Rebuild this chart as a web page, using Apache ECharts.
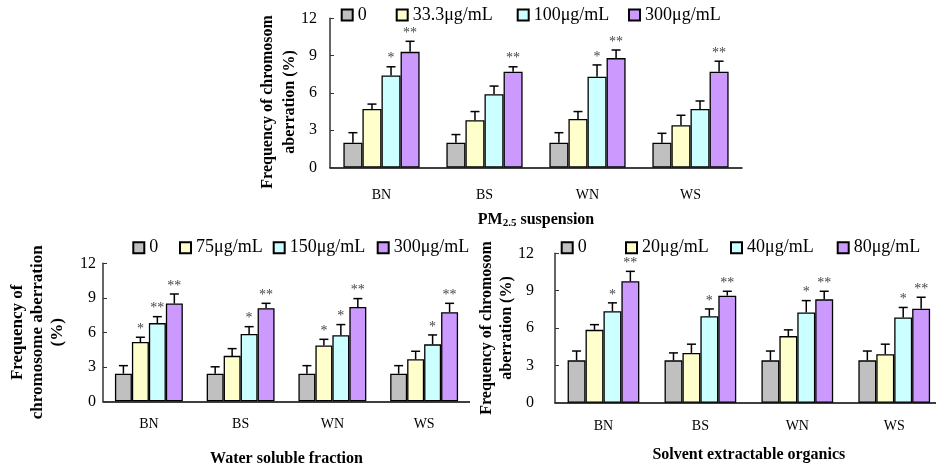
<!DOCTYPE html>
<html>
<head>
<meta charset="utf-8">
<script src="https://cdn.jsdelivr.net/npm/echarts@6/dist/echarts.min.js"></script>
<style>
html, body { margin: 0; padding: 0; background: #fff; }
.chart-box { position: absolute; }
#chartOne { left: 240px; top: 0; width: 520px; height: 236px; }
#chartTwo { left: 0; top: 230px; width: 470px; height: 238px; }
#chartThree { left: 470px; top: 230px; width: 466px; height: 238px; }
</style>
</head>
<body>
<div class="chart-box" id="chartOne"></div>
<div class="chart-box" id="chartTwo"></div>
<div class="chart-box" id="chartThree"></div>
<script>
var categories = ['BN', 'BS', 'WN', 'WS']
var colors = ['#C0C0C0', '#FFFFCC', '#CCFFFF', '#CC99FF']

// PM2.5 suspension
var pmNames = ['0', '33.3μg/mL', '100μg/mL', '300μg/mL']
var pmMean0 = [2.0, 2.0, 2.0, 2.0]
var pmMean1 = [4.7, 3.8, 3.9, 3.4]
var pmMean2 = [7.4, 5.9, 7.3, 4.7]
var pmMean3 = [9.3, 7.7, 8.8, 7.7]
var pmSd0 = [0.8, 0.65, 0.8, 0.75]
var pmSd1 = [0.4, 0.7, 0.6, 0.8]
var pmSd2 = [0.7, 0.65, 0.95, 0.65]
var pmSd3 = [0.85, 0.4, 0.65, 0.85]
var pmStars1 = ['', '', '', '']
var pmStars2 = ['*', '', '*', '']
var pmStars3 = ['**', '**', '**', '**']

// Water soluble fraction
var wsNames = ['0', '75μg/mL', '150μg/mL', '300μg/mL']
var wsMean0 = [2.4, 2.4, 2.4, 2.4]
var wsMean1 = [5.15, 3.95, 4.85, 3.65]
var wsMean2 = [6.8, 5.85, 5.75, 4.95]
var wsMean3 = [8.5, 8.1, 8.2, 7.75]
var wsSd0 = [0.7, 0.6, 0.7, 0.7]
var wsSd1 = [0.42, 0.63, 0.54, 0.7]
var wsSd2 = [0.56, 0.64, 0.92, 0.82]
var wsSd3 = [0.83, 0.42, 0.73, 0.77]
var wsStars1 = ['*', '', '*', '']
var wsStars2 = ['**', '*', '*', '*']
var wsStars3 = ['**', '**', '**', '**']

// Solvent extractable organics
var seNames = ['0', '20μg/mL', '40μg/mL', '80μg/mL']
var seMean0 = [3.4, 3.4, 3.4, 3.4]
var seMean1 = [5.85, 4.0, 5.35, 3.9]
var seMean2 = [7.35, 6.95, 7.25, 6.85]
var seMean3 = [9.75, 8.6, 8.3, 7.55]
var seSd0 = [0.75, 0.6, 0.75, 0.75]
var seSd1 = [0.42, 0.7, 0.5, 0.8]
var seSd2 = [0.67, 0.58, 0.95, 0.8]
var seSd3 = [0.8, 0.35, 0.65, 0.92]
var seStars1 = ['', '', '', '']
var seStars2 = ['*', '*', '*', '*']
var seStars3 = ['**', '**', '**', '**']

var noStars = ['', '', '', '']
var gapPct = 0.26

// 误差线 + 星号
function errorSeries (idx, mean, sd, stars) {
  return {
    type: 'custom',
    silent: true,
    z: 3,
    data: mean.map(function (v, i) { return [i, v, v + sd[i]] }),
    renderItem: function (params, api) {
      var band = api.size([1, 0])[0]
      var barW = band * (1 - gapPct) / 4
      var p0 = api.coord([api.value(0), api.value(1)])
      var p1 = api.coord([api.value(0), api.value(2)])
      var x = p0[0] + (idx - 1.5) * barW
      var kids = [
        { type: 'line', shape: { x1: x, y1: p0[1], x2: x, y2: p1[1] }, style: { stroke: '#000', lineWidth: 1.5 } },
        { type: 'line', shape: { x1: x - 4.5, y1: p1[1], x2: x + 4.5, y2: p1[1] }, style: { stroke: '#000', lineWidth: 1.5 } }
      ]
      var star = stars[params.dataIndex]
      if (star) {
        kids.push({
          type: 'text',
          x: x,
          y: p1[1] - 1,
          style: { text: star, fill: '#444', font: '14px "Liberation Serif"', align: 'center', verticalAlign: 'bottom' }
        })
      }
      return { type: 'group', children: kids }
    }
  }
}

function drawChar (ID, opt) {
  var chart = echarts.init(document.getElementById(ID))
  var series = []
  opt.means.forEach(function (m, i) {
    series.push({
      name: opt.names[i],
      type: 'bar',
      data: m,
      barGap: 0,
      barCategoryGap: (gapPct * 100) + '%',
      itemStyle: { color: colors[i], borderColor: '#000', borderWidth: 1.3 }
    })
  })
  opt.means.forEach(function (m, i) {
    series.push(errorSeries(i, m, opt.sds[i], opt.stars[i]))
  })
  var grid = Object.assign({ outerBoundsMode: 'none', containLabel: false }, opt.grid)
  var option = {
    animation: false,
    legend: opt.names.map(function (n, i) {
      return {
        data: [n],
        left: opt.legendX[i],
        top: opt.legendTop,
        padding: 0,
        icon: 'rect',
        itemWidth: 11,
        itemHeight: 11,
        selectedMode: false,
        textStyle: { color: '#000', fontFamily: 'Liberation Serif', fontSize: 18 }
      }
    }),
    grid: grid,
    xAxis: {
      type: 'category',
      data: categories,
      name: opt.xName,
      nameLocation: 'middle',
      nameGap: opt.xNameGap,
      nameMoveOverlap: false,
      nameTextStyle: {
        color: '#000',
        fontFamily: 'Liberation Serif',
        fontWeight: 'bold',
        fontSize: 16,
        rich: {
          a: { fontFamily: 'Liberation Serif', fontWeight: 'bold', fontSize: 16, color: '#000' },
          b: { fontFamily: 'Liberation Serif', fontWeight: 'bold', fontSize: 11, color: '#000', verticalAlign: 'bottom', padding: [6, 0, 0, 0] }
        }
      },
      axisLine: { lineStyle: { color: '#000', width: 1.5 } },
      axisTick: { inside: true, length: 4, lineStyle: { color: '#000' } },
      axisLabel: { color: '#000', fontFamily: 'Liberation Serif', fontSize: 14, margin: opt.xLabelMargin }
    },
    yAxis: {
      type: 'value',
      min: 0,
      max: 12,
      interval: 3,
      name: opt.yName,
      nameLocation: 'middle',
      nameGap: opt.yNameGap,
      nameMoveOverlap: false,
      nameTextStyle: {
        color: '#000',
        fontFamily: 'Liberation Serif',
        fontWeight: 'bold',
        fontSize: opt.yNameSize,
        lineHeight: opt.yNameLine,
        align: 'center',
        padding: opt.yNamePad || 0
      },
      splitLine: { show: false },
      axisLine: { show: true, lineStyle: { color: '#333', width: 1.5 } },
      axisTick: { show: true, inside: true, length: 4, lineStyle: { color: '#333' } },
      axisLabel: { color: '#000', fontFamily: 'Liberation Serif', fontSize: 16, margin: opt.yLabelMargin }
    },
    series: series
  }
  chart.setOption(option)
  window.addEventListener('resize', function () {
    chart.resize()
  })
}

drawChar('chartOne', {
  names: pmNames,
  means: [pmMean0, pmMean1, pmMean2, pmMean3],
  sds: [pmSd0, pmSd1, pmSd2, pmSd3],
  stars: [noStars, pmStars1, pmStars2, pmStars3],
  legendX: [100.7, 155.7, 276.7, 388],
  legendTop: 6,
  grid: { left: 90, right: 18, top: 18.3, bottom: 68.5 },
  xName: '{a|PM}{b|2.5}{a| suspension}',
  xNameGap: 44,
  xLabelMargin: 21,
  yName: 'Frequency of chromosom\naberration (%)',
  yNameGap: 29,
  yNameSize: 16,
  yNameLine: 22,
  yNamePad: [0, 18, 0, 0],
  yLabelMargin: 13
})

drawChar('chartTwo', {
  names: wsNames,
  means: [wsMean0, wsMean1, wsMean2, wsMean3],
  sds: [wsSd0, wsSd1, wsSd2, wsSd3],
  stars: [noStars, wsStars1, wsStars2, wsStars3],
  legendX: [132.3, 179, 272.7, 376.7],
  legendTop: 8.7,
  grid: { left: 103, right: 0, top: 33.3, bottom: 66.7 },
  xName: 'Water soluble fraction',
  xNameGap: 50,
  xLabelMargin: 16,
  yName: 'Frequency of\nchromosome aberration\n(%)',
  yNameGap: 35,
  yNameSize: 17,
  yNameLine: 20,
  yLabelMargin: 7
})

drawChar('chartThree', {
  names: seNames,
  means: [seMean0, seMean1, seMean2, seMean3],
  sds: [seSd0, seSd1, seSd2, seSd3],
  stars: [noStars, seStars1, seStars2, seStars3],
  legendX: [90.7, 155, 260, 366.7],
  legendTop: 8.7,
  grid: { left: 85, right: -6.7, top: 23.3, bottom: 65.3 },
  xName: 'Solvent extractable organics',
  xNameGap: 44,
  xLabelMargin: 17,
  yName: 'Frequency of chromosom\naberration (%)',
  yNameGap: 38,
  yNameSize: 16,
  yNameLine: 20,
  yLabelMargin: 21
})
</script>
</body>
</html>
